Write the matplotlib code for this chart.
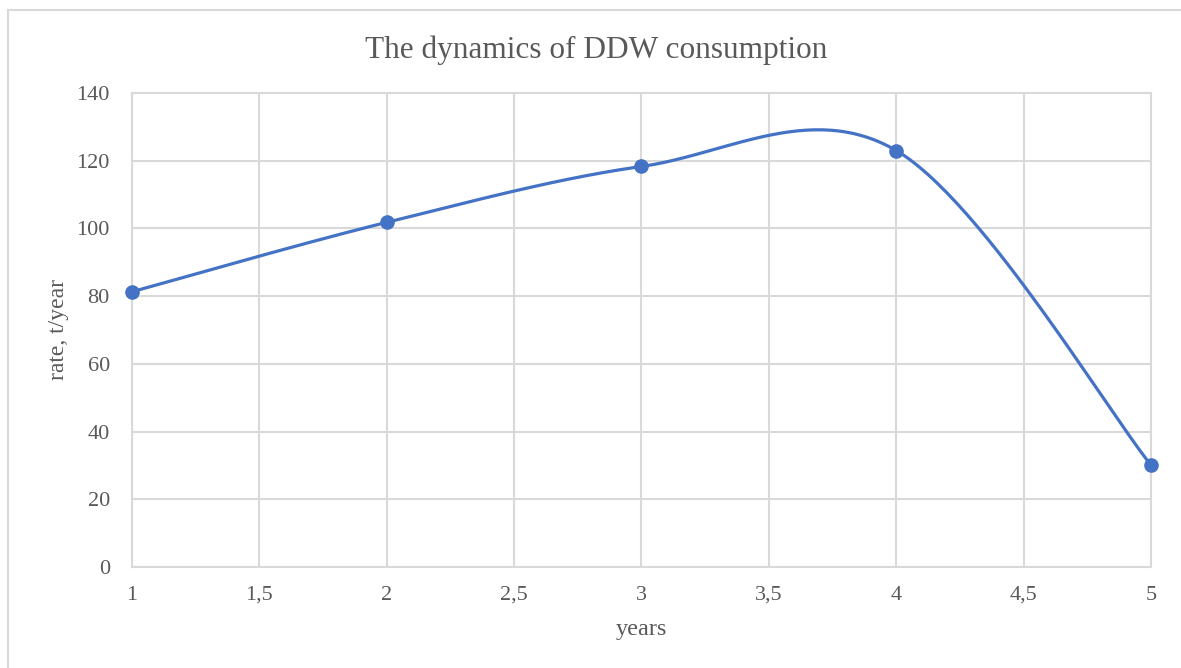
import numpy as np
import matplotlib.pyplot as plt
from matplotlib.lines import Line2D

years = [1, 2, 3, 4, 5]
rate = [81.3, 101.8, 118.3, 123.0, 30.1]
x_ticks = [1, 1.5, 2, 2.5, 3, 3.5, 4, 4.5, 5]
x_tick_labels = ['1', '1,5', '2', '2,5', '3', '3,5', '4', '4,5', '5']
y_ticks = [0, 20, 40, 60, 80, 100, 120, 140]

blue = '#4472c4'
grid_c = '#d9d9d9'
text_c = '#595959'

plt.rcParams['font.family'] = ['Liberation Serif', 'DejaVu Serif']


def smooth(xs, ys, n=60):
    # excel-like smoothed line: cubic bezier through the points
    xs = np.asarray(xs, float)
    ys = np.asarray(ys, float)
    px = np.concatenate([[xs[0]], xs, [xs[-1]]])
    py = np.concatenate([[ys[0]], ys, [ys[-1]]])
    out_x, out_y = [], []
    t = np.linspace(0, 1, n)
    for i in range(len(xs) - 1):
        p0 = np.array([px[i + 1], py[i + 1]])
        p3 = np.array([px[i + 2], py[i + 2]])
        c1 = p0 + (p3 - np.array([px[i], py[i]])) / 6
        c2 = p3 - (np.array([px[i + 3], py[i + 3]]) - p0) / 6
        b = ((1 - t) ** 3)[:, None] * p0 + (3 * (1 - t) ** 2 * t)[:, None] * c1 \
            + (3 * (1 - t) * t ** 2)[:, None] * c2 + (t ** 3)[:, None] * p3
        out_x.extend(b[:, 0])
        out_y.extend(b[:, 1])
    return out_x, out_y


W, H = 1181, 668
fig = plt.figure(figsize=(W / 100, H / 100), dpi=100)
ax = fig.add_axes([132 / W, 1 - 567 / H, (1151 - 132) / W, (567 - 93) / H])

sx, sy = smooth(years, rate)
ax.plot(sx, sy, color=blue, lw=2.3, solid_capstyle='round', zorder=3)
ax.plot(years, rate, 'o', color=blue, ms=9.5, zorder=4, clip_on=False)

ax.set_xlim(1, 5)
ax.set_ylim(0, 140)
ax.set_xticks(x_ticks)
ax.set_xticklabels(x_tick_labels)
ax.set_yticks(y_ticks)
ax.grid(True, color=grid_c, lw=1.5)
ax.set_axisbelow(True)
for s in ax.spines.values():
    s.set_color(grid_c)
    s.set_linewidth(1.5)
ax.tick_params(length=0, labelsize=16, labelcolor=text_c)
ax.tick_params(axis='x', pad=13.5)
ax.tick_params(axis='y', pad=16)

fig.text(596 / W, 1 - 50 / H, 'The dynamics of DDW consumption', fontsize=22.5,
         color=text_c, ha='center', va='center')
ax.set_xlabel('years', fontsize=17.5, color=text_c, va='center')
ax.xaxis.set_label_coords(0.5, -(630 - 567) / 474)
ax.set_ylabel('rate, t/year', fontsize=17, color=text_c, va='center', ha='center')
ax.yaxis.set_label_coords((58 - 132) / 1019, 0.5)

# outer chart border
fig.add_artist(Line2D([7.5 / W, 7.5 / W], [0, 1 - 9.5 / H], color=grid_c, lw=1.5))
fig.add_artist(Line2D([7.5 / W, 1], [1 - 9.5 / H, 1 - 9.5 / H], color=grid_c, lw=1.5))

fig.savefig('out.png', dpi=100)
